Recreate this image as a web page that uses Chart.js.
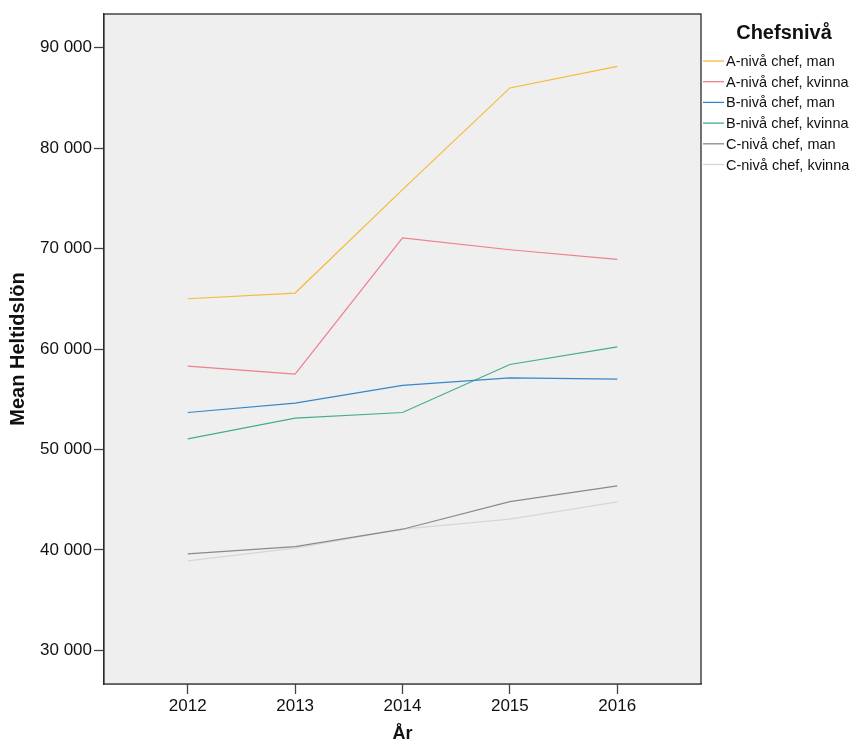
<!DOCTYPE html>
<html>
<head>
<meta charset="utf-8">
<script src="https://cdn.jsdelivr.net/npm/chart.js@4/dist/chart.umd.min.js"></script>
<style>
  html, body { margin: 0; padding: 0; background: #fff; }
  canvas { display: block; }
</style>
</head>
<body>
<canvas id="chart" width="867" height="747"></canvas>
<script>
// Data
const years = [2012, 2013, 2014, 2015, 2016];
const yTicks = [30000, 40000, 50000, 60000, 70000, 80000, 90000];
const seriesLabels = [
  "A-nivå chef, man",
  "A-nivå chef, kvinna",
  "B-nivå chef, man",
  "B-nivå chef, kvinna",
  "C-nivå chef, man",
  "C-nivå chef, kvinna"
];
const aMan = [65000, 65570, 75860, 85990, 88140];
const aKvinna = [58300, 57500, 71050, 69880, 68920];
const bMan = [53680, 54610, 56370, 57130, 57000];
const bKvinna = [51060, 53120, 53680, 58460, 60220];
const cMan = [39600, 40330, 42060, 44810, 46380];
const cKvinna = [38900, 40170, 42060, 43060, 44780];

const colors = ["#F7BA3A", "#EF7F8D", "#3587C9", "#44AF82", "#8A8A8A", "#D6D6D6"];
const allSeries = [aMan, aKvinna, bMan, bKvinna, cMan, cKvinna];

const FONT = "'Liberation Sans', Arial, sans-serif";

const fmt = (v) => String(v).replace(/\B(?=(\d{3})+(?!\d))/g, " ");

// plot background + frame
const frame = {
  id: "frame",
  beforeDatasetsDraw(chart) {
    const { ctx, chartArea: a } = chart;
    ctx.save();
    ctx.fillStyle = "#EFEFEF";
    ctx.fillRect(a.left, a.top, a.right - a.left, a.bottom - a.top);
    ctx.restore();
  },
  afterDraw(chart) {
    const { ctx, chartArea: a } = chart;
    ctx.save();
    ctx.strokeStyle = "#2a2a2a";
    ctx.lineWidth = 1.3;
    ctx.strokeRect(a.left, a.top, a.right - a.left, a.bottom - a.top);
    ctx.restore();
  }
};

// legend drawn to the right, SPSS style
const sideLegend = {
  id: "sideLegend",
  afterDraw(chart) {
    const { ctx, chartArea: a } = chart;
    ctx.save();
    ctx.fillStyle = "#111";
    ctx.font = "bold 20px " + FONT;
    ctx.textAlign = "center";
    ctx.textBaseline = "middle";
    ctx.fillText("Chefsnivå", 784, 33);
    ctx.font = "14.5px " + FONT;
    ctx.textAlign = "left";
    chart.data.datasets.forEach((ds, i) => {
      const y = 61 + i * 20.7;
      ctx.strokeStyle = ds.borderColor;
      ctx.lineWidth = 1.3;
      ctx.beginPath();
      ctx.moveTo(a.right + 2, y);
      ctx.lineTo(a.right + 23, y);
      ctx.stroke();
      ctx.fillStyle = "#111";
      ctx.fillText(ds.label, a.right + 25, y + 1);
    });
    ctx.restore();
  }
};

new Chart(document.getElementById("chart"), {
  type: "line",
  data: {
    datasets: allSeries.map((vals, i) => ({
      label: seriesLabels[i],
      data: years.map((yr, j) => ({ x: yr, y: vals[j] })),
      borderColor: colors[i],
      backgroundColor: colors[i],
      borderWidth: 1.2,
      pointRadius: 0,
      tension: 0,
      fill: false
    }))
  },
  options: {
    responsive: false,
    animation: false,
    layout: { padding: { top: 14, right: 166, left: 0, bottom: 0 } },
    plugins: {
      legend: { display: false },
      tooltip: { enabled: false }
    },
    scales: {
      x: {
        type: "linear",
        min: 2011.22,
        max: 2016.78,
        afterBuildTicks: (s) => { s.ticks = years.map((v) => ({ value: v })); },
        afterFit: (s) => { s.height = 63; },
        grid: { drawOnChartArea: false, tickLength: 10, tickColor: "#444", tickWidth: 1.3 },
        border: { color: "#2a2a2a", width: 1.3 },
        ticks: {
          padding: 2,
          color: "#111",
          font: { family: FONT, size: 17 },
          callback: (v) => String(v),
          maxRotation: 0
        },
        title: {
          display: true,
          text: "År",
          color: "#111",
          font: { family: FONT, size: 18, weight: "bold" },
          padding: { top: 0, bottom: 2 }
        }
      },
      y: {
        min: 26650,
        max: 93350,
        afterBuildTicks: (s) => { s.ticks = yTicks.map((v) => ({ value: v })); },
        afterFit: (s) => { s.width = 104; },
        grid: { drawOnChartArea: false, tickLength: 10, tickColor: "#444", tickWidth: 1.3 },
        border: { color: "#2a2a2a", width: 1.3 },
        ticks: {
          padding: 2,
          color: "#111",
          font: { family: FONT, size: 17 },
          callback: (v) => fmt(v)
        },
        title: {
          display: true,
          text: "Mean Heltidslön",
          color: "#111",
          font: { family: FONT, size: 20, weight: "bold" },
          padding: { top: 6, bottom: 0 }
        }
      }
    }
  },
  plugins: [frame, sideLegend]
});
</script>
</body>
</html>
